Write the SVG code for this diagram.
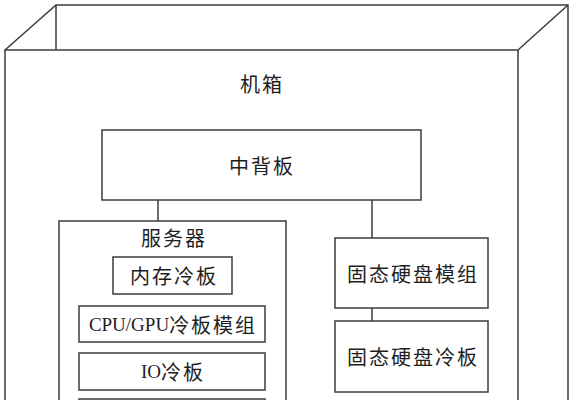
<svg xmlns="http://www.w3.org/2000/svg" width="574" height="400" viewBox="0 0 574 400">
<style>
.ln{fill:none;stroke:#3c3c3c;stroke-width:1.5}
.bx{fill:#ffffff;stroke:#3c3c3c;stroke-width:1.5}
.t{font-family:"Noto Sans CJK SC","Liberation Serif",sans-serif;font-size:20px;letter-spacing:2px;fill:#1e1e1e;text-anchor:middle;dominant-baseline:central}
.lat{font-family:"Liberation Serif","Noto Sans CJK SC",serif;font-size:19px;letter-spacing:0}
</style>
<rect width="574" height="400" fill="#ffffff"/>
<g id="chassis">
  <path class="ln" d="M5,50 L56,5 L568,5 L568,400 M56,5 L56,50 M518,50 L568,5"/>
  <path class="ln" d="M5,400 L5,50 L518,50 L518,400"/>
  <text class="t" x="262" y="83">机箱</text>
</g>
<g id="connectors">
  <path class="ln" d="M158,200 L158,221 M372,200 L372,238 M372,308 L372,321"/>
</g>
<g id="backplane">
  <rect class="bx" x="102" y="130" width="319" height="70"/>
  <text class="t" x="262" y="165">中背板</text>
</g>
<g id="server">
  <rect class="bx" x="59" y="221" width="227" height="190"/>
  <text class="t" x="174" y="237">服务器</text>
</g>
<g id="memory-cold-plate">
  <rect class="bx" x="113" y="257" width="119" height="37"/>
  <text class="t" x="174" y="275">内存冷板</text>
</g>
<g id="cpu-gpu-cold-plate">
  <rect class="bx" x="79" y="306" width="186" height="36"/>
  <text class="t" x="173" y="324"><tspan class="lat">CPU/GPU</tspan>冷板模组</text>
</g>
<g id="io-cold-plate">
  <rect class="bx" x="79" y="353" width="186" height="37"/>
  <text class="t" x="173" y="371"><tspan class="lat">IO</tspan>冷板</text>
</g>
<g id="lower-module">
  <rect class="bx" x="79" y="399" width="186" height="30"/>
</g>
<g id="ssd-module">
  <rect class="bx" x="335" y="238" width="153" height="70"/>
  <text class="t" x="413" y="273">固态硬盘模组</text>
</g>
<g id="ssd-cold-plate">
  <rect class="bx" x="335" y="321" width="153" height="71"/>
  <text class="t" x="413" y="356">固态硬盘冷板</text>
</g>
</svg>
